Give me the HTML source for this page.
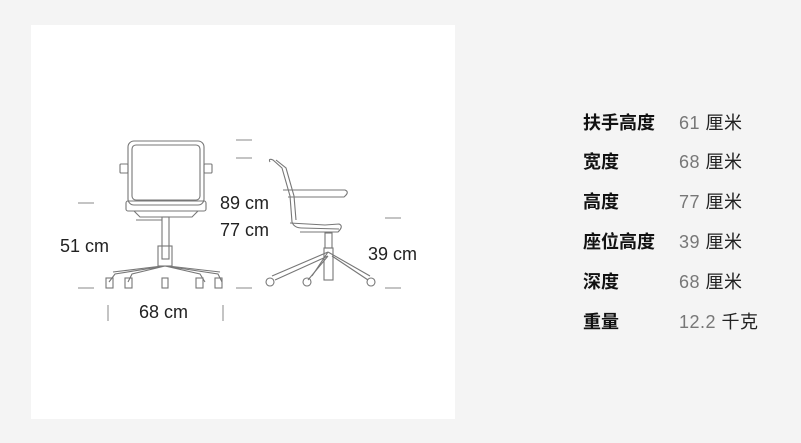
<!DOCTYPE html>
<html><head><meta charset="utf-8"><style>
html,body{margin:0;padding:0;}
body{width:801px;height:443px;background:#f4f4f4;position:relative;overflow:hidden;font-family:"Liberation Sans","Noto Sans CJK SC",sans-serif;}
.panel{position:absolute;left:31px;top:25px;width:424px;height:394px;background:#fff;}
.row{position:absolute;left:583px;font-size:18px;line-height:20px;}
.row b{position:absolute;left:0;top:0;color:#111;white-space:nowrap;font-weight:bold;}
.row span{position:absolute;left:96px;top:0;white-space:nowrap;color:#777;font-size:18px;letter-spacing:0.5px;}
.row span i{font-style:normal;color:#222;}
.dim{position:absolute;font-size:18px;color:#222;white-space:nowrap;}
</style></head><body>
<div class="panel"></div>
<svg style="position:absolute;left:0;top:0" width="801" height="443" viewBox="0 0 801 443">
<g fill="none" stroke="#777" stroke-width="1.1">
<rect x="128" y="141" width="76" height="64" rx="6"/>
<rect x="132" y="145" width="68" height="55" rx="4"/>
<rect x="120" y="164" width="8" height="9" rx="1"/><rect x="204" y="164" width="8" height="9" rx="1"/>
<rect x="126" y="201" width="80" height="10" rx="2"/>
<path d="M134 211 L140 217 L192 217 L198 211"/>
<line x1="136" y1="220" x2="162" y2="220"/>
<rect x="162" y="217" width="7" height="42"/>
<rect x="158" y="246" width="14" height="20"/>
<path d="M165 266 L115 274 L109 282 M165 266 L132 274 L128 282 M165 266 L200 274 L205 282 M165 266 L218 274 L222 282"/>
<path d="M162 266 L113 272 M168 266 L220 272"/>
<rect x="106" y="278" width="7" height="10"/><rect x="125" y="278" width="7" height="10"/><rect x="162" y="278" width="6" height="10"/><rect x="196" y="278" width="7" height="10"/><rect x="215" y="278" width="7" height="10"/>
<path d="M270 162 Q268 158 273 160 L282 168 L290 196 L292 222 Q294 228 302 228 L339 229"/>
<path d="M276 160 L286 168 L294 196 L296 220"/>
<path d="M283 190 L345 190 Q350 192 344 197 L288 197"/>
<path d="M290 223 L325 225 L339 224 Q344 226 338 232 L300 232"/>
<rect x="325" y="233" width="7" height="15"/>
<rect x="324" y="248" width="9" height="32"/>
<path d="M328 252 L272 276 M328 252 L312 276 M328 252 L370 276"/>
<path d="M328 256 L275 280 M328 256 L308 280 M332 256 L368 280"/>
<circle cx="270" cy="282" r="4"/><circle cx="307" cy="282" r="4"/><circle cx="371" cy="282" r="4"/>
</g>
<g stroke="#888" stroke-width="1">
<line x1="236" y1="140" x2="252" y2="140"/><line x1="236" y1="158" x2="252" y2="158"/>
<line x1="78" y1="203" x2="94" y2="203"/><line x1="385" y1="218" x2="401" y2="218"/>
<line x1="78" y1="288" x2="94" y2="288"/><line x1="236" y1="288" x2="252" y2="288"/><line x1="385" y1="288" x2="401" y2="288"/>
<line x1="108" y1="305" x2="108" y2="321"/><line x1="223" y1="305" x2="223" y2="321"/>
</g>
</svg>
<div class="dim" style="left:220px;top:193px">89 cm</div>
<div class="dim" style="left:220px;top:220px">77 cm</div>
<div class="dim" style="left:60px;top:236px">51 cm</div>
<div class="dim" style="left:368px;top:244px">39 cm</div>
<div class="dim" style="left:139px;top:302px">68 cm</div>
<div class="row" style="top:113px"><b>扶手高度</b><span>61 <i>厘米</i></span></div>
<div class="row" style="top:152px"><b>宽度</b><span>68 <i>厘米</i></span></div>
<div class="row" style="top:192px"><b>高度</b><span>77 <i>厘米</i></span></div>
<div class="row" style="top:232px"><b>座位高度</b><span>39 <i>厘米</i></span></div>
<div class="row" style="top:272px"><b>深度</b><span>68 <i>厘米</i></span></div>
<div class="row" style="top:312px"><b>重量</b><span>12.2 <i>千克</i></span></div>
</body></html>
